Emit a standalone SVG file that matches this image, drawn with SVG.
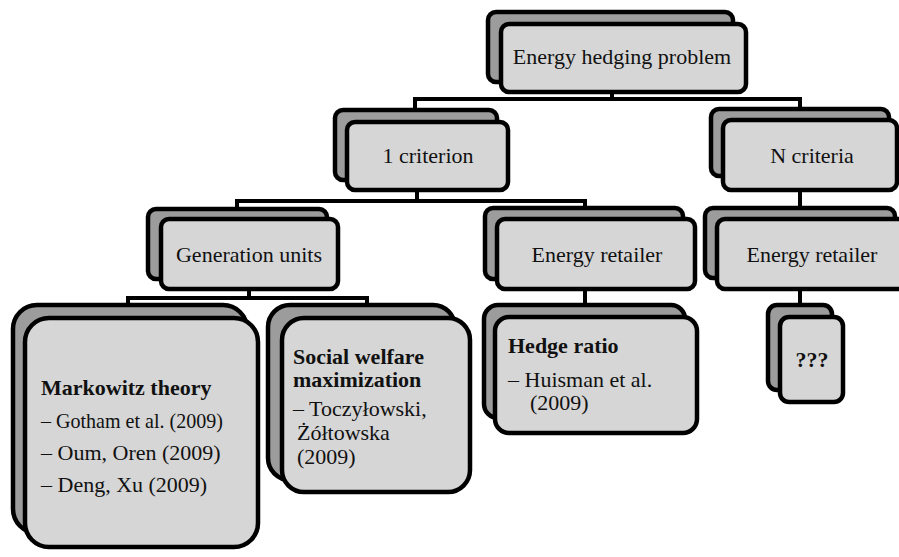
<svg xmlns="http://www.w3.org/2000/svg" width="899" height="557" viewBox="0 0 899 557">
<style>
.back{fill:#9c9c9c;stroke:#000;stroke-width:4.5}
.front{fill:#d6d6d6;stroke:#000;stroke-width:4.5}
.lbl{font-family:"Liberation Serif","Times New Roman",serif;font-size:22px;fill:#111}
.c{text-anchor:middle}
.b{font-weight:bold}
.conn{fill:none;stroke:#000;stroke-width:4}
</style>
<rect width="899" height="557" fill="#fff"/>
<g id="connectors" class="conn">
<path d="M612,92 V99 H415 V112 M612,99 H800 V111"/>
<path d="M417,190 V201 H237 V211 M417,201 H585 V210"/>
<path d="M800,190 V210"/>
<path d="M249,289 V298 H128 V307 M249,298 H367 V307"/>
<path d="M585,289 V307"/>
<path d="M800,289 V307"/>
</g>
<g id="n-root">
<rect class="back" x="488" y="12" width="245" height="70" rx="8"/>
<rect class="front" x="501" y="24" width="245" height="68" rx="8"/>
<text class="lbl c" x="622" y="64">Energy hedging problem</text>
</g>
<g id="n-1crit">
<rect class="back" x="335" y="110" width="162" height="70" rx="8"/>
<rect class="front" x="347" y="122" width="161" height="68" rx="8"/>
<text class="lbl c" x="428" y="163">1 criterion</text>
</g>
<g id="n-ncrit">
<rect class="back" x="711" y="109" width="178" height="67" rx="8"/>
<rect class="front" x="723" y="120" width="174" height="70" rx="8"/>
<text class="lbl c" x="812" y="163">N criteria</text>
</g>
<g id="n-gen">
<rect class="back" x="148" y="209" width="179" height="70" rx="8"/>
<rect class="front" x="161" y="219" width="177" height="70" rx="8"/>
<text class="lbl c" x="249" y="262">Generation units</text>
</g>
<g id="n-ret1">
<rect class="back" x="485" y="208" width="198" height="71" rx="8"/>
<rect class="front" x="497" y="219" width="198" height="70" rx="8"/>
<text class="lbl c" x="597" y="262">Energy retailer</text>
</g>
<g id="n-ret2">
<rect class="back" x="705" y="208" width="190" height="70" rx="8"/>
<rect class="front" x="717" y="219" width="195" height="70" rx="8"/>
<text class="lbl c" x="812" y="262">Energy retailer</text>
</g>
<g id="n-markowitz">
<rect class="back" x="13" y="305" width="234" height="228" rx="24"/>
<rect class="front" x="25" y="318" width="233" height="229" rx="24"/>
<text class="lbl b" x="41" y="395">Markowitz theory</text>
<text class="lbl" x="41" y="428" textLength="182" lengthAdjust="spacingAndGlyphs">– Gotham et al. (2009)</text>
<text class="lbl" x="41" y="460">– Oum, Oren (2009)</text>
<text class="lbl" x="41" y="492">– Deng, Xu (2009)</text>
</g>
<g id="n-social">
<rect class="back" x="268" y="305" width="187" height="175" rx="22"/>
<rect class="front" x="282" y="318" width="188" height="174" rx="22"/>
<text class="lbl b" x="293" y="364" font-size="21">Social welfare</text>
<text class="lbl b" x="293" y="387" font-size="21">maximization</text>
<text class="lbl" x="293" y="416" font-size="21">– Toczyłowski,</text>
<text class="lbl" x="297" y="440" font-size="21">Żółtowska</text>
<text class="lbl" x="297" y="464" font-size="21">(2009)</text>
</g>
<g id="n-hedge">
<rect class="back" x="484" y="305" width="201" height="113" rx="14"/>
<rect class="front" x="495" y="317" width="202" height="116" rx="14"/>
<text class="lbl b" x="508" y="353">Hedge ratio</text>
<text class="lbl" x="508" y="387">– Huisman et al.</text>
<text class="lbl" x="530" y="410">(2009)</text>
</g>
<g id="n-unknown">
<rect class="back" x="768" y="305" width="64" height="85" rx="9"/>
<rect class="front" x="780" y="317" width="63" height="85" rx="9"/>
<text class="lbl c b" x="812" y="367">???</text>
</g>
</svg>
